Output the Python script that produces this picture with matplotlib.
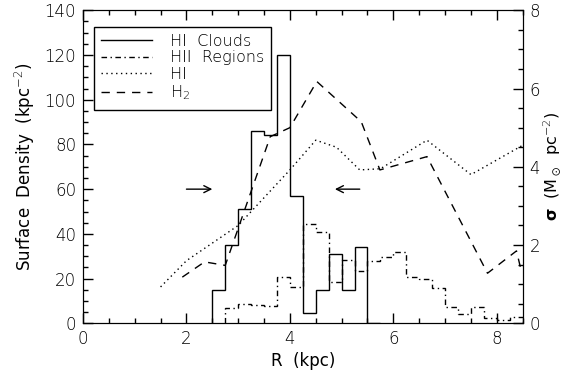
import numpy as np
import matplotlib
matplotlib.use("Agg")
import matplotlib.pyplot as plt
from matplotlib.ticker import MultipleLocator

plt.rcParams['font.family'] = ['DejaVu Sans']
plt.rcParams['font.weight'] = 'light'
plt.rcParams['mathtext.fontset'] = 'dejavusans'

# HI cloud counts per 0.25 kpc bin (left axis)
cloud_edges = np.arange(2.5, 5.76, 0.25)
cloud_vals = [15, 35, 51, 86, 84, 120, 57, 4.5, 15, 31, 15, 34, 0]

# HII region counts per 0.25 kpc bin (left axis)
hii_edges = np.arange(2.75, 8.51, 0.25)
hii_vals = [6.7, 8.8, 8.3, 7.8, 20.8, 16.4, 44.3, 40.7, 18.3, 28.3, 23.5, 27.9,
            29.8, 31.8, 20.6, 19.7, 15.7, 7.2, 4.0, 7.2, 2.2, 1.5, 3.0]

# gas surface density profiles (right axis, Msun pc^-2)
hi_r = [1.5, 2.0, 2.5, 3.0, 4.0, 4.5, 4.9, 5.35, 5.75, 6.65, 7.5, 8.5]
hi_sigma = [0.93, 1.6, 2.05, 2.5, 3.92, 4.68, 4.5, 3.92, 3.95, 4.68, 3.8, 4.55]

h2_r = [1.92, 2.35, 2.75, 3.62, 4.0, 4.52, 5.38, 5.74, 6.65, 7.82, 8.38, 8.48]
h2_sigma = [1.18, 1.57, 1.48, 4.77, 5.0, 6.18, 5.15, 3.92, 4.26, 1.28, 1.85, 1.3]

# arrows marking the radial range
arrow_y = 60
arrow_right = (2.0, 2.5)
arrow_left = (5.35, 4.87)

fig = plt.figure(figsize=(5.63, 3.78), dpi=100)
ax = fig.add_axes([0.1474, 0.1447, 0.7810, 0.8281])
ax2 = ax.twinx()

ax.stairs(cloud_vals, cloud_edges, baseline=0, color='black', lw=1.0)
ax.stairs(hii_vals, hii_edges, baseline=0, color='black', lw=1.0,
          linestyle=(0, (4, 2.5, 1, 2.5)))
l_hi, = ax2.plot(hi_r, hi_sigma, color='black', lw=1.0, linestyle=(0, (1, 2.5)))
l_h2, = ax2.plot(h2_r, h2_sigma, color='black', lw=1.0, linestyle=(0, (6, 5)))

for x0, x1 in (arrow_right, arrow_left):
    ax.annotate('', xy=(x1, arrow_y), xytext=(x0, arrow_y),
                arrowprops=dict(arrowstyle='->,head_length=0.5,head_width=0.25',
                                color='black', lw=1.0, shrinkA=0, shrinkB=0))

ax.set_xlim(0, 8.5)
ax.set_ylim(0, 140)
ax2.set_ylim(0, 8)

ax.xaxis.set_major_locator(MultipleLocator(2))
ax.xaxis.set_minor_locator(MultipleLocator(0.5))
ax.yaxis.set_major_locator(MultipleLocator(20))
ax.yaxis.set_minor_locator(MultipleLocator(5))
ax2.yaxis.set_major_locator(MultipleLocator(2))
ax2.yaxis.set_minor_locator(MultipleLocator(0.5))

ax.tick_params(which='both', direction='in', top=True, right=False,
               labelsize=12, pad=5, width=1, labelcolor='black')
ax.tick_params(which='major', length=7)
ax.tick_params(which='minor', length=3.5)
ax2.tick_params(which='both', direction='in', labelsize=12, pad=5, width=1)
ax2.tick_params(which='major', length=7)
ax2.tick_params(which='minor', length=3.5)

ax.set_xlabel('R  (kpc)', fontsize=12, labelpad=3)
ax.set_ylabel('Surface  Density  (kpc$^{-2}$)', fontsize=12, labelpad=5)
ax2.set_ylabel(r'$\mathbf{\sigma}$  (M$_\odot$  pc$^{-2}$)', fontsize=11.5, labelpad=1)

handles = [plt.Line2D([], [], color='black', lw=1.0),
           plt.Line2D([], [], color='black', lw=1.0, linestyle=(0, (4, 2.5, 1, 2.5))),
           l_hi, l_h2]
labels = ['HI  Clouds', 'HII  Regions', 'HI', 'H$_2$']
leg = ax2.legend(handles, labels, loc='upper left', bbox_to_anchor=(0.025, 0.9476),
                 borderaxespad=0, fontsize=11.5, frameon=True, fancybox=False,
                 edgecolor='black', framealpha=1, handlelength=3.2,
                 handletextpad=1.1, labelspacing=0.1, borderpad=0.45)
leg.get_frame().set_linewidth(1.0)

fig.savefig('out.png', dpi=100)
